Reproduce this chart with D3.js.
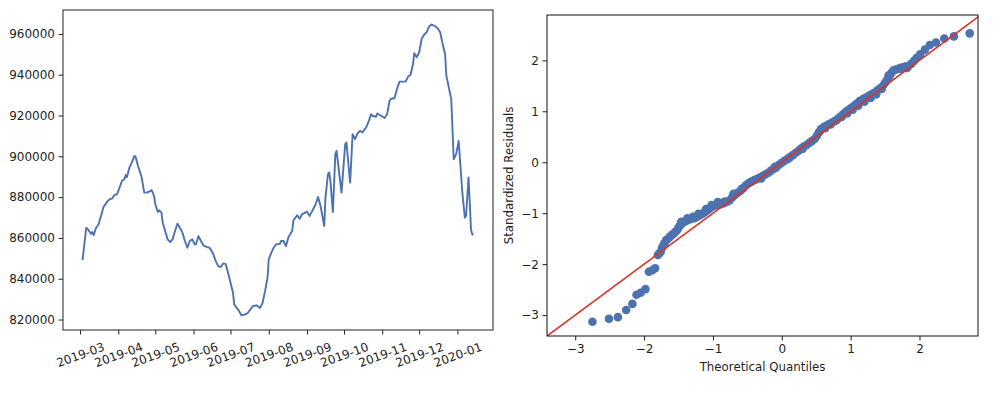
<!DOCTYPE html>
<html>
<head>
<meta charset="utf-8">
<script src="https://cdn.jsdelivr.net/npm/d3@7"></script>
<style>
  body { margin: 0; background: #fff; }
  svg text { font-family: "DejaVu Sans", sans-serif; fill: #1f1f1f; }
</style>
</head>
<body>
<div id="chart"></div>
<script>
// series (left panel)
var dates = ["2019-03-03","2019-03-06","2019-03-07","2019-03-10","2019-03-11","2019-03-12","2019-03-14","2019-03-16","2019-03-18","2019-03-20",
  "2019-03-23","2019-03-25","2019-03-27","2019-03-29","2019-03-31","2019-04-02","2019-04-04","2019-04-06","2019-04-07","2019-04-08",
  "2019-04-10","2019-04-12","2019-04-14","2019-04-15","2019-04-17","2019-04-20","2019-04-22","2019-04-24","2019-04-27","2019-04-28",
  "2019-04-30","2019-05-01","2019-05-03","2019-05-04","2019-05-06","2019-05-07","2019-05-09","2019-05-11","2019-05-13","2019-05-15",
  "2019-05-17","2019-05-19","2019-05-21","2019-05-23","2019-05-25","2019-05-27","2019-05-29","2019-05-31","2019-06-02","2019-06-03",
  "2019-06-05","2019-06-07","2019-06-09","2019-06-12","2019-06-14","2019-06-17","2019-06-19","2019-06-21","2019-06-23","2019-06-25",
  "2019-06-27","2019-06-29","2019-07-01","2019-07-03","2019-07-04","2019-07-06","2019-07-08","2019-07-10","2019-07-13","2019-07-15",
  "2019-07-19","2019-07-22","2019-07-25","2019-07-27","2019-07-29","2019-07-31","2019-08-01","2019-08-03","2019-08-05","2019-08-07",
  "2019-08-10","2019-08-11","2019-08-13","2019-08-15","2019-08-17","2019-08-20","2019-08-21","2019-08-24","2019-08-26","2019-08-28",
  "2019-08-29","2019-09-01","2019-09-03","2019-09-05","2019-09-08","2019-09-10","2019-09-12","2019-09-15","2019-09-16","2019-09-18",
  "2019-09-19","2019-09-20","2019-09-22","2019-09-24","2019-09-25","2019-09-29","2019-10-02","2019-10-03","2019-10-06","2019-10-08",
  "2019-10-10","2019-10-12","2019-10-14","2019-10-16","2019-10-19","2019-10-21","2019-10-23","2019-10-24","2019-10-27","2019-10-28",
  "2019-10-31","2019-11-03","2019-11-05","2019-11-07","2019-11-08","2019-11-11","2019-11-13","2019-11-15","2019-11-18","2019-11-20",
  "2019-11-22","2019-11-24","2019-11-26","2019-11-27","2019-11-29","2019-12-01","2019-12-03","2019-12-05","2019-12-07","2019-12-09",
  "2019-12-11","2019-12-13","2019-12-16","2019-12-18","2019-12-20","2019-12-22","2019-12-23","2019-12-25","2019-12-27","2019-12-29",
  "2019-12-31","2020-01-02","2020-01-05","2020-01-07","2020-01-08","2020-01-10","2020-01-11","2020-01-12","2020-01-13","2020-01-14"];
var values = [849100,865000,864500,862000,862900,861300,865000,866700,870800,875200,
  877800,879000,879300,881100,881400,884700,888000,888800,890900,889900,
  894500,897000,900200,899800,895300,889600,882200,882200,883000,883500,
  880600,876500,872700,873600,872400,867500,863400,859300,858000,859300,
  863400,867000,865000,862600,858500,855200,858500,859300,856900,856900,
  860900,858500,856400,855500,855200,852200,848600,846200,845700,847500,
  847300,842900,838000,833100,827400,825700,824100,822000,822500,823200,
  826500,827000,825700,828200,833900,840400,849500,852700,855200,856900,
  857100,858500,858500,856000,860400,863400,868600,871100,869400,871600,
  871900,872900,870800,872900,876500,880100,875700,865800,879800,891300,
  892100,888000,872700,901100,902700,882200,906000,906800,887100,910900,
  908400,911200,912500,911700,914200,917100,920700,919900,919400,921000,
  919900,918800,920700,927300,928100,928600,933000,936600,936600,936600,
  939100,940000,945300,950500,948600,951000,957600,959600,960800,963600,
  964600,964100,962800,960800,955100,950200,939600,933800,928100,898600,
  901100,907600,882200,869900,870800,889600,877300,864200,861800,861400];
var yTicks = [820000,840000,860000,880000,900000,920000,940000,960000];
var monthTicks = ["2019-03","2019-04","2019-05","2019-06","2019-07","2019-08","2019-09","2019-10","2019-11","2019-12","2020-01"];

// QQ plot (right panel): theoretical vs standardized residual
var qqTheo = [-2.75,-2.51,-2.38,-2.26,-2.17,-2.11,-2.05,-1.98,-1.93,-1.88,-1.84,-1.80,-1.78,-1.76,-1.74,-1.72,-1.70,-1.68,-1.66,-1.63,
  -1.60,-1.57,-1.54,-1.52,-1.50,-1.48,-1.45,-1.42,-1.39,-1.35,-1.31,-1.27,-1.23,-1.19,-1.15,-1.12,-1.08,-1.05,-1.00,-0.95,
  -0.90,-0.85,-0.80,-0.76,-0.72,-0.68,-0.64,-0.60,-0.56,-0.52,-0.48,-0.44,-0.40,-0.36,-0.32,-0.28,-0.24,-0.20,-0.16,-0.12,
  -0.08,-0.04,0.00,0.04,0.08,0.12,0.16,0.20,0.24,0.28,0.32,0.36,0.40,0.44,0.48,0.51,0.54,0.57,0.61,0.65,
  0.69,0.73,0.77,0.81,0.85,0.89,0.93,0.97,1.01,1.05,1.09,1.13,1.18,1.22,1.27,1.31,1.35,1.39,1.43,1.47,
  1.50,1.53,1.56,1.59,1.62,1.66,1.70,1.74,1.79,1.84,1.88,1.92,1.96,2.01,2.08,2.15,2.24,2.36,2.50,2.73,
  -1.46,-1.37,-1.29,-1.21,-1.10,-1.02,-0.93,-0.83,-0.70,-0.58,-0.30,-0.10,0.10,0.30,0.55,0.63,0.71,0.79,0.87,0.95,
  1.03,1.11,1.20,1.29,1.37,1.45,1.55,1.64,1.72,1.82];
var qqSample = [-3.13,-3.07,-3.04,-2.90,-2.78,-2.60,-2.56,-2.49,-2.15,-2.12,-2.08,-1.82,-1.79,-1.76,-1.68,-1.63,-1.58,-1.53,-1.51,-1.47,
  -1.43,-1.40,-1.36,-1.33,-1.28,-1.24,-1.20,-1.17,-1.15,-1.13,-1.11,-1.10,-1.07,-1.04,-1.01,-0.98,-0.94,-0.91,-0.87,-0.84,
  -0.83,-0.81,-0.78,-0.75,-0.69,-0.64,-0.60,-0.56,-0.51,-0.45,-0.41,-0.38,-0.35,-0.33,-0.30,-0.27,-0.24,-0.21,-0.17,-0.13,
  -0.10,-0.05,-0.01,0.03,0.06,0.10,0.14,0.18,0.22,0.27,0.31,0.34,0.38,0.42,0.46,0.52,0.59,0.65,0.69,0.72,
  0.75,0.78,0.81,0.85,0.89,0.94,0.99,1.03,1.07,1.11,1.15,1.20,1.24,1.27,1.31,1.34,1.37,1.41,1.45,1.50,
  1.56,1.62,1.68,1.75,1.80,1.82,1.84,1.86,1.88,1.89,1.93,1.99,2.05,2.12,2.21,2.30,2.35,2.43,2.47,2.53,
  -1.17,-1.10,-1.07,-1.01,-0.92,-0.84,-0.78,-0.77,-0.62,-0.52,-0.32,-0.09,0.08,0.26,0.60,0.67,0.74,0.82,0.89,0.96,
  1.03,1.11,1.19,1.26,1.33,1.44,1.70,1.81,1.83,1.85];
var qqXLim = [-3.41, 2.85];
var qqYLim = [-3.41, 2.89];
var qqXTicks = [-3,-2,-1,0,1,2];
var qqYTicks = [-3,-2,-1,0,1,2];

var blue = "#4c72b0", red = "#db3328";

var svg = d3.select("#chart").append("svg").attr("width", 1005).attr("height", 396);

// ---------- left: time series ----------
var L = { left: 63, top: 10, right: 493, bottom: 330 };
var parse = d3.timeParse("%Y-%m-%d");
var data = dates.map(function(d, i) { return { date: parse(d), value: values[i] }; });

var tExt = d3.extent(data, function(d) { return d.date; });
var tPad = (tExt[1] - tExt[0]) * 0.05;
var x = d3.scaleTime()
  .domain([new Date(+tExt[0] - tPad), new Date(+tExt[1] + tPad)])
  .range([L.left, L.right]);
var vExt = d3.extent(values);
var vPad = (vExt[1] - vExt[0]) * 0.05;
var y = d3.scaleLinear().domain([vExt[0] - vPad, vExt[1] + vPad]).range([L.bottom, L.top]);

var gl = svg.append("g");
gl.append("path")
  .datum(data)
  .attr("fill", "none")
  .attr("stroke", blue)
  .attr("stroke-width", 1.9)
  .attr("stroke-linejoin", "round")
  .attr("d", d3.line().x(function(d) { return x(d.date); }).y(function(d) { return y(d.value); }));

gl.append("g").attr("transform", "translate(" + L.left + ",0)")
  .call(d3.axisLeft(y).tickValues(yTicks).tickFormat(d3.format("d")).tickSizeOuter(0).tickSize(4.5).tickPadding(3.5));
var xAxisL = gl.append("g").attr("transform", "translate(0," + L.bottom + ")")
  .call(d3.axisBottom(x).tickValues(monthTicks.map(function(m) { return d3.timeParse("%Y-%m")(m); }))
    .tickFormat(d3.timeFormat("%Y-%m")).tickSizeOuter(0).tickSize(4.5));
xAxisL.selectAll(".tick text")
  .attr("y", 0).attr("dy", null)
  .attr("text-anchor", "middle")
  .attr("dominant-baseline", "central")
  .attr("transform", "translate(0,25) rotate(-20)");

gl.append("rect")
  .attr("x", L.left).attr("y", L.top)
  .attr("width", L.right - L.left).attr("height", L.bottom - L.top)
  .attr("fill", "none").attr("stroke", "#222").attr("stroke-width", 1);

// ---------- right: QQ plot ----------
var R = { left: 547, top: 15, right: 978, bottom: 336 };
var qx = d3.scaleLinear().domain(qqXLim).range([R.left, R.right]);
var qy = d3.scaleLinear().domain(qqYLim).range([R.bottom, R.top]);

var gr = svg.append("g");
svg.append("clipPath").attr("id", "qqclip")
  .append("rect").attr("x", R.left).attr("y", R.top)
  .attr("width", R.right - R.left).attr("height", R.bottom - R.top);

gr.append("g").attr("clip-path", "url(#qqclip)")
  .selectAll("circle")
  .data(qqTheo)
  .enter().append("circle")
  .attr("cx", function(d) { return qx(d); })
  .attr("cy", function(d, i) { return qy(qqSample[i]); })
  .attr("r", 4.3)
  .attr("fill", blue);

// 45 degree reference line
var lineEnds = [Math.min(qqXLim[0], qqYLim[0]), Math.max(qqXLim[1], qqYLim[1])];
gr.append("line")
  .attr("clip-path", "url(#qqclip)")
  .attr("x1", qx(lineEnds[0])).attr("y1", qy(lineEnds[0]))
  .attr("x2", qx(lineEnds[1])).attr("y2", qy(lineEnds[1]))
  .attr("stroke", red).attr("stroke-width", 1.6);

gr.append("g").attr("transform", "translate(" + R.left + ",0)")
  .call(d3.axisLeft(qy).tickValues(qqYTicks).tickFormat(d3.format("d")).tickSizeOuter(0).tickSize(4.5).tickPadding(3.5));
gr.append("g").attr("transform", "translate(0," + R.bottom + ")")
  .call(d3.axisBottom(qx).tickValues(qqXTicks).tickFormat(d3.format("d")).tickSizeOuter(0).tickSize(4.5).tickPadding(3.5));

gr.append("rect")
  .attr("x", R.left).attr("y", R.top)
  .attr("width", R.right - R.left).attr("height", R.bottom - R.top)
  .attr("fill", "none").attr("stroke", "#111").attr("stroke-width", 1);

gr.append("text")
  .attr("x", (R.left + R.right) / 2).attr("y", 367)
  .attr("text-anchor", "middle").attr("dominant-baseline", "central")
  .style("font-size", "11.8px")
  .text("Theoretical Quantiles");
gr.append("text")
  .attr("transform", "translate(509," + (R.top + R.bottom) / 2 + ") rotate(-90)")
  .attr("text-anchor", "middle").attr("dominant-baseline", "central")
  .style("font-size", "11.8px")
  .text("Standardized Residuals");

// shared tick styling
svg.selectAll(".tick text").style("font-size", "12px").attr("fill", "#1f1f1f");
svg.selectAll(".tick line").attr("stroke", "#222");
svg.selectAll(".domain").remove();
</script>
</body>
</html>
